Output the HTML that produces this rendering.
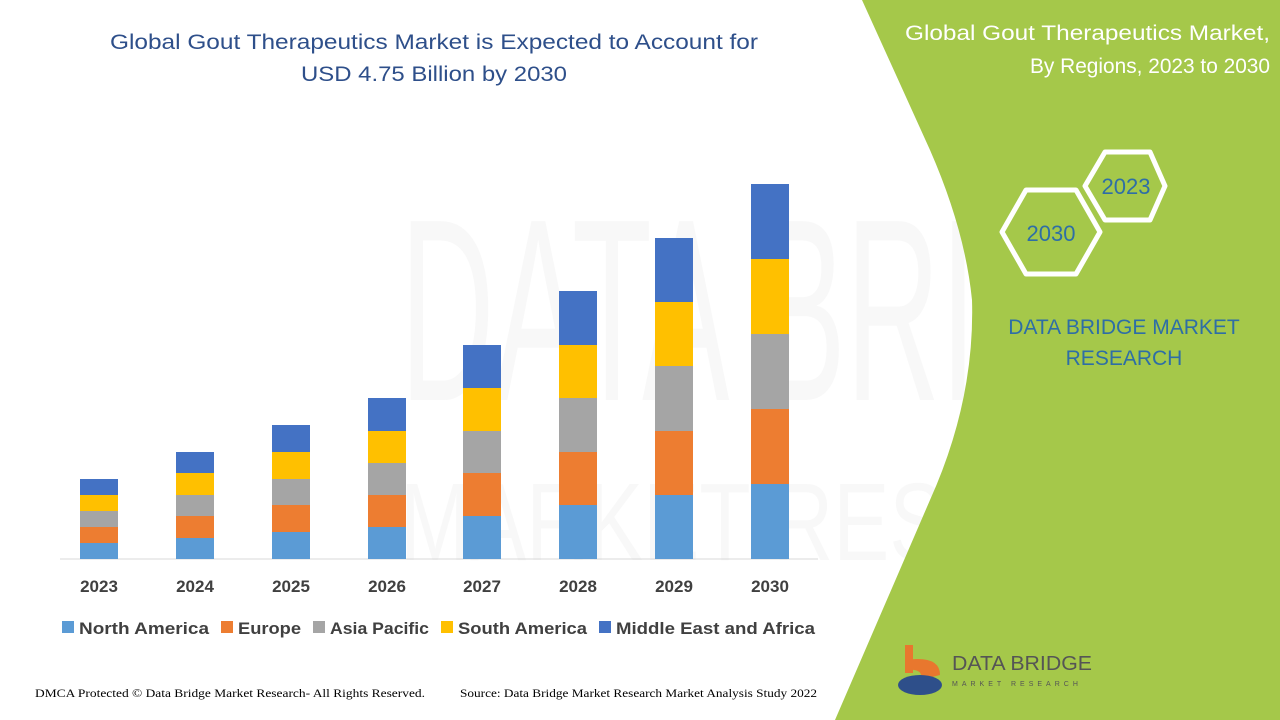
<!DOCTYPE html>
<html><head><meta charset="utf-8"><style>
body{margin:0;width:1280px;height:720px;overflow:hidden;background:#fff;font-family:"Liberation Sans",sans-serif}
</style></head><body>
<svg width="1280" height="720" xmlns="http://www.w3.org/2000/svg" style="position:absolute;left:0;top:0">
<g opacity="0.035" font-family="Liberation Sans" fill="#555">
<text x="400" y="400" font-size="260" textLength="860" lengthAdjust="spacingAndGlyphs">DATA BRIDGE</text>
<text x="400" y="560" font-size="110" textLength="840" lengthAdjust="spacingAndGlyphs">MARKET RESEARCH</text>
</g>
<path d="M862 0 L1280 0 L1280 720 L835 720 L930 500 Q975 400 972 300 Q965 230 930 150 Z" fill="#a5c84a"/>
<text x="110" y="49" font-size="21" fill="#2e4f8a" textLength="648" lengthAdjust="spacingAndGlyphs">Global Gout Therapeutics Market is Expected to Account for</text>
<text x="301" y="81" font-size="21" fill="#2e4f8a" textLength="266" lengthAdjust="spacingAndGlyphs">USD 4.75 Billion by 2030</text>
<text x="905" y="40" font-size="21" fill="#fff" textLength="365" lengthAdjust="spacingAndGlyphs">Global Gout Therapeutics Market,</text>
<text x="1030" y="73" font-size="21" fill="#fff" textLength="240" lengthAdjust="spacingAndGlyphs">By Regions, 2023 to 2030</text>
<polygon points="1002,232 1026,190 1076,190 1100,232 1076,274 1026,274" fill="none" stroke="#fff" stroke-width="5" stroke-linejoin="round"/>
<polygon points="1085,186 1105,152 1150,152 1165,186 1150,220 1105,220" fill="none" stroke="#fff" stroke-width="5" stroke-linejoin="round"/>
<text x="1051" y="241" font-size="22" fill="#2e6ea6" text-anchor="middle">2030</text>
<text x="1126" y="194" font-size="22" fill="#2e6ea6" text-anchor="middle">2023</text>
<text x="1124" y="334" font-size="21" fill="#2e6ea6" text-anchor="middle">DATA BRIDGE MARKET</text>
<text x="1124" y="365" font-size="21" fill="#2e6ea6" text-anchor="middle">RESEARCH</text>
<rect x="905" y="645" width="8" height="28" fill="#e8772e"/>
<path d="M905 660 Q940 655 940 675 L920 680 Q925 668 905 670Z" fill="#e8772e"/>
<ellipse cx="920" cy="685" rx="22" ry="10" fill="#2e4f8a"/>
<text x="952" y="670" font-size="20" fill="#555" textLength="140" lengthAdjust="spacingAndGlyphs">DATA BRIDGE</text>
<text x="952" y="686" font-size="7" fill="#555" letter-spacing="4">MARKET RESEARCH</text>
<line x1="60" y1="559" x2="818" y2="559" stroke="#d9d9d9" stroke-width="1"/>
<g font-size="17" font-weight="bold" fill="#404040" text-anchor="middle">
<text x="99" y="592">2023</text><text x="195" y="592">2024</text><text x="291" y="592">2025</text><text x="387" y="592">2026</text><text x="482" y="592">2027</text><text x="578" y="592">2028</text><text x="674" y="592">2029</text><text x="770" y="592">2030</text>
</g>
<g font-size="17" font-weight="bold" fill="#404040">
<rect x="62" y="621" width="12" height="12" fill="#5b9bd5"/><text x="79" y="634" textLength="130" lengthAdjust="spacingAndGlyphs">North America</text>
<rect x="221" y="621" width="12" height="12" fill="#ed7d31"/><text x="238" y="634" textLength="63" lengthAdjust="spacingAndGlyphs">Europe</text>
<rect x="313" y="621" width="12" height="12" fill="#a5a5a5"/><text x="330" y="634" textLength="99" lengthAdjust="spacingAndGlyphs">Asia Pacific</text>
<rect x="441" y="621" width="12" height="12" fill="#ffc000"/><text x="458" y="634" textLength="129" lengthAdjust="spacingAndGlyphs">South America</text>
<rect x="599" y="621" width="12" height="12" fill="#4472c4"/><text x="616" y="634" textLength="199" lengthAdjust="spacingAndGlyphs">Middle East and Africa</text>
</g>
<text x="35" y="697" font-size="12" fill="#000" font-family="Liberation Serif" textLength="390" lengthAdjust="spacingAndGlyphs">DMCA Protected © Data Bridge Market Research- All Rights Reserved.</text>
<text x="460" y="697" font-size="12" fill="#000" font-family="Liberation Serif" textLength="357" lengthAdjust="spacingAndGlyphs">Source: Data Bridge Market Research Market Analysis Study 2022</text>
<g>
<rect x="80" y="543" width="38" height="16" fill="#5b9bd5"/><rect x="80" y="527" width="38" height="16" fill="#ed7d31"/><rect x="80" y="511" width="38" height="16" fill="#a5a5a5"/><rect x="80" y="495" width="38" height="16" fill="#ffc000"/><rect x="80" y="479" width="38" height="16" fill="#4472c4"/>
<rect x="176" y="538" width="38" height="21" fill="#5b9bd5"/><rect x="176" y="516" width="38" height="22" fill="#ed7d31"/><rect x="176" y="495" width="38" height="21" fill="#a5a5a5"/><rect x="176" y="473" width="38" height="22" fill="#ffc000"/><rect x="176" y="452" width="38" height="21" fill="#4472c4"/>
<rect x="272" y="532" width="38" height="27" fill="#5b9bd5"/><rect x="272" y="505" width="38" height="27" fill="#ed7d31"/><rect x="272" y="479" width="38" height="26" fill="#a5a5a5"/><rect x="272" y="452" width="38" height="27" fill="#ffc000"/><rect x="272" y="425" width="38" height="27" fill="#4472c4"/>
<rect x="368" y="527" width="38" height="32" fill="#5b9bd5"/><rect x="368" y="495" width="38" height="32" fill="#ed7d31"/><rect x="368" y="463" width="38" height="32" fill="#a5a5a5"/><rect x="368" y="431" width="38" height="32" fill="#ffc000"/><rect x="368" y="398" width="38" height="33" fill="#4472c4"/>
<rect x="463" y="516" width="38" height="43" fill="#5b9bd5"/><rect x="463" y="473" width="38" height="43" fill="#ed7d31"/><rect x="463" y="431" width="38" height="42" fill="#a5a5a5"/><rect x="463" y="388" width="38" height="43" fill="#ffc000"/><rect x="463" y="345" width="38" height="43" fill="#4472c4"/>
<rect x="559" y="505" width="38" height="54" fill="#5b9bd5"/><rect x="559" y="452" width="38" height="53" fill="#ed7d31"/><rect x="559" y="398" width="38" height="54" fill="#a5a5a5"/><rect x="559" y="345" width="38" height="53" fill="#ffc000"/><rect x="559" y="291" width="38" height="54" fill="#4472c4"/>
<rect x="655" y="495" width="38" height="64" fill="#5b9bd5"/><rect x="655" y="431" width="38" height="64" fill="#ed7d31"/><rect x="655" y="366" width="38" height="65" fill="#a5a5a5"/><rect x="655" y="302" width="38" height="64" fill="#ffc000"/><rect x="655" y="238" width="38" height="64" fill="#4472c4"/>
<rect x="751" y="484" width="38" height="75" fill="#5b9bd5"/><rect x="751" y="409" width="38" height="75" fill="#ed7d31"/><rect x="751" y="334" width="38" height="75" fill="#a5a5a5"/><rect x="751" y="259" width="38" height="75" fill="#ffc000"/><rect x="751" y="184" width="38" height="75" fill="#4472c4"/>
</g>
</svg>
</body></html>
